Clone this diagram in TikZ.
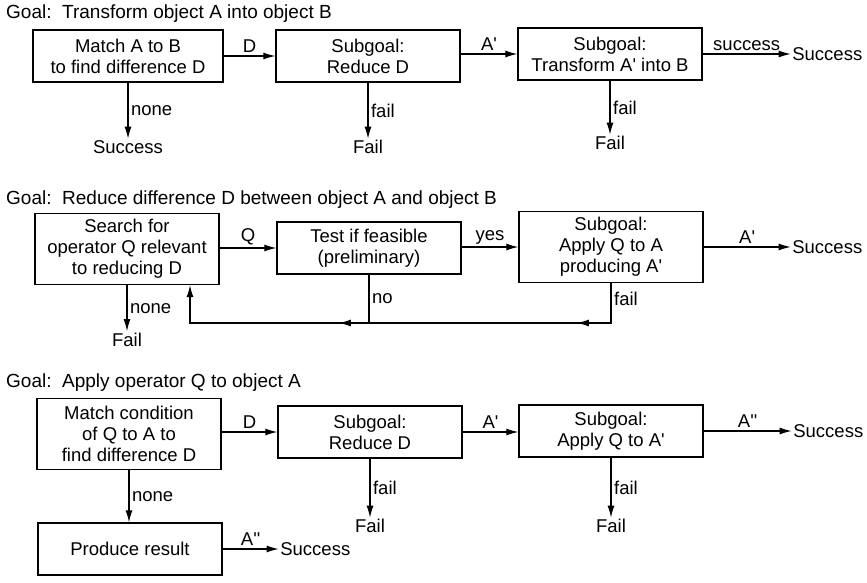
\documentclass[tikz,border=0pt]{standalone}
\usepackage{fontspec}
\setmainfont{Liberation Sans}
\usetikzlibrary{arrows.meta,positioning,calc,decorations.markings}
\newcommand{\Ap}{A\textquotesingle}
\newcommand{\App}{A\textquotesingle\textquotesingle}

\begin{document}
\begin{tikzpicture}[
    x=1pt,y=-1pt,
    font=\fontsize{18.5}{21}\selectfont,
    box/.style={draw,line width=1.3pt,align=center,minimum width=184pt,minimum height=52pt,inner sep=2pt},
    tall/.style={minimum height=71pt},
    goal/.style={anchor=base west,inner sep=0pt,font=\fontsize{19}{21}\selectfont},
    outcome/.style={inner sep=1.5pt},
    lbl/.style={inner sep=2.5pt},
    tip/.tip={Latex[length=12pt,width=7pt]},
    arrow/.style={line width=1.2pt,-tip},
    line/.style={line width=1.2pt},
    loopback/.style={arrow,postaction={decorate},decoration={markings,
        mark=at position 74pt with {\arrow{tip}},
        mark=at position 312pt with {\arrow{tip}}}}
]
    \useasboundingbox (0,0) rectangle (867,583);

    % transform A into B
    \node[goal] (g1) at (6,19) {Goal:\ \ Transform object A into object B};
    \node[box,minimum width=190pt] (match) at (128,56) {Match A to B\\to find difference D};
    \node[box] (reduce1) at (368,56) {Subgoal:\\Reduce D};
    \node[box] (transform) at (610,54) {Subgoal:\\Transform \Ap{} into B};
    \node[outcome,below=56pt of match] (done1) {Success};
    \node[outcome,below=56pt of reduce1] (fail1) {Fail};
    \node[outcome,below=54pt of transform] (fail2) {Fail};
    \node[outcome,right=88pt of transform] (succ1) {Success};

    \draw[arrow] (reduce1.west -| match.east) -- node[above,lbl] {D} (reduce1.west);
    \draw[arrow] (transform.west -| reduce1.east) -- node[above,lbl] {\Ap} (transform.west);
    \draw[arrow] (transform.east) -- node[above,lbl] {success} (succ1.west);
    \draw[arrow] (match.south) -- node[right,lbl] {none} (done1.north);
    \draw[arrow] (reduce1.south) -- node[right,lbl] {fail} (fail1.north);
    \draw[arrow] (transform.south) -- node[right,lbl] {fail} (fail2.north);

    % reduce difference D
    \node[goal] (g2) at (6,204) {Goal:\ \ Reduce difference D between object A and object B};
    \node[box,tall] (search) at (127,249) {Search for\\operator Q relevant\\to reducing D};
    \node[box] (test) at (369,248) {Test if feasible\\(preliminary)};
    \node[box,tall] (apply1) at (611,247) {Subgoal:\\Apply Q to A\\producing \Ap};
    \node[outcome,below=46pt of search] (fail3) {Fail};
    \node[outcome,right=87pt of apply1] (succ2) {Success};
    \coordinate (back) at (190,323);

    \draw[arrow] (test.west -| search.east) -- node[above,lbl] {Q} (test.west);
    \draw[arrow] (apply1.west -| test.east) -- node[above,lbl] {yes} (apply1.west);
    \draw[arrow] (apply1.east) -- node[above,lbl] {\Ap} (succ2.west);
    \draw[arrow] (search.south) -- node[right,lbl] {none} (fail3.north);
    \draw[loopback] (apply1.south) -- node[right,lbl,pos=0.4] {fail} (apply1.south |- back)
        -- (back) -- (back |- search.south);
    \draw[line] (test.south) -- node[right,lbl] {no} (test.south |- back);

    % apply operator Q
    \node[goal] (g3) at (6,387) {Goal:\ \ Apply operator Q to object A};
    \node[box,tall] (cond) at (129,434) {Match condition\\of Q to A to\\find difference D};
    \node[box] (reduce2) at (370,432) {Subgoal:\\Reduce D};
    \node[box] (applyq) at (611,431) {Subgoal:\\Apply Q to \Ap};
    \node[box] (result) at (130,549) {Produce result};
    \node[outcome,below=59pt of reduce2] (fail4) {Fail};
    \node[outcome,below=60pt of applyq] (fail5) {Fail};
    \node[outcome,right=88pt of applyq] (succ3) {Success};
    \node[outcome,right=56pt of result] (succ4) {Success};

    \draw[arrow] (reduce2.west -| cond.east) -- node[above,lbl] {D} (reduce2.west);
    \draw[arrow] (reduce2.east) -- node[above,lbl] {\Ap} (reduce2.east -| applyq.west);
    \draw[arrow] (applyq.east) -- node[above,lbl] {\App} (succ3.west);
    \draw[arrow] (cond.south) -- node[right,lbl] {none} (cond.south |- result.north);
    \draw[arrow] (result.east) -- node[above,lbl] {\App} (succ4.west);
    \draw[arrow] (reduce2.south) -- node[right,lbl] {fail} (fail4.north);
    \draw[arrow] (applyq.south) -- node[right,lbl] {fail} (fail5.north);
\end{tikzpicture}
\end{document}
